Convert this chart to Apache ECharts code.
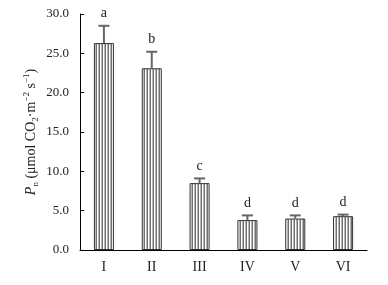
<!DOCTYPE html>
<html>
<head>
<meta charset="utf-8">
<script src="https://cdn.jsdelivr.net/npm/echarts@6/dist/echarts.min.js"></script>
<style>
  html, body { margin: 0; padding: 0; background: #fff; }
  #main { width: 388px; height: 285px; }
</style>
</head>
<body>
<div id="main"></div>
<script>
// 数据
var categories = ['I', 'II', 'III', 'IV', 'V', 'VI'];
var pnValues = [26.3, 23.1, 8.5, 3.8, 4.0, 4.3];
var errTops = [28.5, 25.2, 9.1, 4.4, 4.4, 4.5];
var letters = ['a', 'b', 'c', 'd', 'd', 'd'];
var yTicks = { min: 0, max: 30, interval: 5 };

var FONT = '"Liberation Serif", "DejaVu Serif", serif';
var TXT = '#222';

// 竖条纹填充
function stripePattern() {
  var c = document.createElement('canvas');
  c.width = 3; c.height = 4;
  var ctx = c.getContext('2d');
  ctx.fillStyle = '#ffffff';
  ctx.fillRect(0, 0, 3, 4);
  ctx.fillStyle = '#707070';
  ctx.fillRect(0, 0, 1, 4);
  ctx.fillStyle = '#b8b8b8';
  ctx.fillRect(2, 0, 1, 4);
  return c;
}

var myChart = echarts.init(document.getElementById('main'));

var errData = categories.map(function (c, i) {
  return [i, pnValues[i], errTops[i], letters[i]];
});

myChart.setOption({
  animation: false,
  grid: { left: 80, right: 21, top: 14, bottom: 35 },
  xAxis: {
    type: 'category',
    data: categories,
    axisLine: { lineStyle: { color: '#000', width: 1 } },
    axisTick: { inside: true, length: 4, lineStyle: { color: '#000' } },
    axisLabel: { color: TXT, fontFamily: FONT, fontSize: 14, margin: 10 }
  },
  yAxis: {
    type: 'value',
    min: yTicks.min,
    max: yTicks.max,
    interval: yTicks.interval,
    splitLine: { show: false },
    axisLine: { show: true, lineStyle: { color: '#000', width: 1 } },
    axisTick: { show: true, inside: true, length: 4, lineStyle: { color: '#000' } },
    axisLabel: {
      color: TXT, fontFamily: FONT, fontSize: 13, margin: 11,
      formatter: function (v) { return v.toFixed(1); }
    },
    name: '{it|P}{sub|n}{n| (μmol CO}{sub|2}{n|·m}{sup|−2}{n| s}{sup|−1}{n|)}',
    nameLocation: 'middle',
    nameRotate: 90,
    nameGap: 40,
    nameMoveOverlap: false,
    nameTextStyle: {
      color: TXT,
      fontFamily: FONT,
      fontSize: 14,
      lineHeight: 18,
      rich: {
        n: { fontFamily: FONT, fontSize: 14, color: TXT },
        it: { fontFamily: FONT, fontSize: 14, fontStyle: 'italic', color: TXT },
        sub: { fontFamily: FONT, fontSize: 9, color: TXT, verticalAlign: 'bottom', lineHeight: 9 },
        sup: { fontFamily: FONT, fontSize: 9, color: TXT, verticalAlign: 'top', lineHeight: 9 }
      }
    }
  },
  series: [
    {
      type: 'bar',
      data: pnValues,
      barWidth: 20,
      itemStyle: {
        color: { image: stripePattern(), repeat: 'repeat' },
        borderColor: '#333',
        borderWidth: 1
      }
    },
    {
      type: 'custom',
      data: errData,
      z: 5,
      renderItem: function (params, api) {
        var base = api.coord([api.value(0), api.value(1)]);
        var top = api.coord([api.value(0), api.value(2)]);
        var x = base[0];
        var st = { stroke: '#666', lineWidth: 2 };
        return {
          type: 'group',
          children: [
            { type: 'line', shape: { x1: x, y1: base[1], x2: x, y2: top[1] }, style: st },
            { type: 'line', shape: { x1: x - 5.5, y1: top[1], x2: x + 5.5, y2: top[1] }, style: st },
            {
              type: 'text',
              style: {
                x: x, y: top[1] - 5,
                text: letters[params.dataIndex],
                fill: TXT,
                font: '14px ' + FONT,
                textAlign: 'center',
                textVerticalAlign: 'bottom'
              }
            }
          ]
        };
      }
    }
  ]
});
</script>
</body>
</html>
